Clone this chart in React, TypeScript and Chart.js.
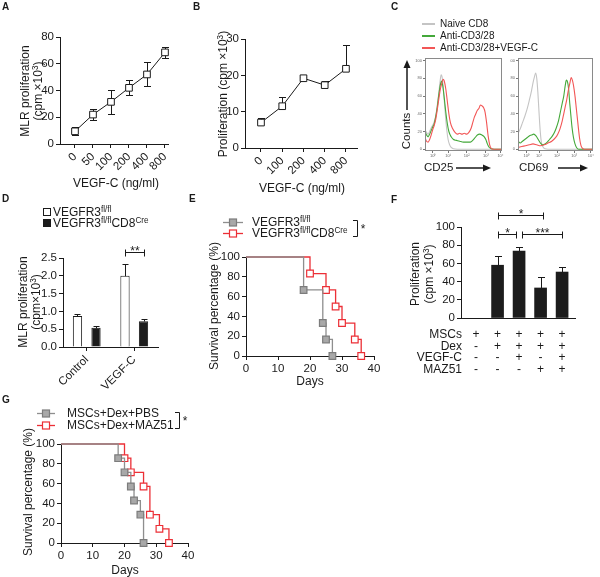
import React, { useEffect, useRef } from 'react';
import { Chart, registerables } from 'chart.js';

Chart.register(...registerables);

const FONT = "'Liberation Sans', Arial, Helvetica, sans-serif";
const INK = '#1a1a1a';
Chart.defaults.font.family = FONT;
Chart.defaults.color = INK;

// ---------- Panel A ----------
const aDoses = ['0', '50', '100', '200', '400', '800'];
const aMean = [9.5, 22, 31.5, 42, 52, 68.5];
const aErr = [3, 4, 9, 5.5, 9, 4];

// ---------- Panel B ----------
const bDoses = ['0', '100', '200', '400', '800'];
const bMean = [7, 11.5, 19.2, 17.3, 21.8];
const bErr = [1.3, 2.5, 0.4, 1.2, 6.5];

// ---------- Panel C (flow histograms, % of max) ----------
const flowYTicks = [0, 20, 40, 60, 80, 100];
const flowTickLabels = ['10⁰', '10¹', '10²', '10³', '10⁴'];
const cd25TickPos = [10, 30, 54, 79, 98];
const cd69TickPos = [11, 28, 52, 75, 97];
const cd25Naive = [[0, 22], [2, 19], [4, 17], [6, 20], [8, 24], [10, 27], [12, 31], [14, 38], [16, 50], [18, 64], [19.5, 76], [21, 84], [22.5, 80], [24, 66], [26, 44], [28, 24], [30, 11], [32, 5], [34, 2], [37, 0.5], [42, 0], [100, 0]];
const cd25Anti = [[0, 20], [2, 16], [4, 14], [6, 17], [8, 21], [10, 25], [12, 29], [14, 37], [16, 48], [18, 62], [20, 73], [21.5, 77], [23, 72], [25, 58], [27, 42], [29, 29], [31, 20], [34, 14], [37, 11], [41, 10], [45, 9], [50, 8], [55, 8], [59, 8], [62, 10], [65, 13], [68, 16], [71, 17], [74, 16], [77, 14], [79, 11], [81, 6], [83, 2.5], [86, 0.5], [90, 0], [100, 0]];
const cd25Vegf = [[0, 13], [2, 9], [4, 8], [6, 11], [8, 16], [10, 22], [12, 27], [14, 34], [16, 45], [18, 57], [20, 68], [22, 75], [23.5, 79], [25, 77], [27, 68], [29, 54], [31, 40], [33, 30], [36, 23], [39, 19], [42, 17], [45, 18], [48, 17], [51, 18], [54, 17], [57, 19], [60, 24], [62, 30], [64, 36], [66, 40], [68, 44], [70, 46], [72, 50], [74, 49], [76, 47], [78, 42], [80, 30], [82, 15], [84, 5], [86, 1], [89, 0], [100, 0]];
const cd69Naive = [[0, 18], [3, 23], [6, 30], [9, 37], [12, 45], [15, 55], [18, 66], [20, 75], [22, 82], [23.5, 86], [25, 80], [26.5, 64], [28, 42], [29.5, 22], [31, 9], [33, 3], [36, 0.5], [40, 0], [100, 0]];
const cd69Anti = [[0, 9], [3, 7], [6, 9], [9, 11], [12, 13], [15, 15], [18, 16], [21, 17], [24, 15], [27, 11], [30, 7], [33, 5], [36, 6], [39, 8], [42, 11], [45, 14], [48, 18], [51, 24], [54, 32], [57, 44], [59, 52], [61, 60], [63, 72], [64.5, 78], [66, 76], [67.5, 68], [69, 52], [70.5, 38], [72, 25], [74, 13], [76, 6], [78, 2], [81, 0], [100, 0]];
const cd69Vegf = [[0, 2], [5, 3], [10, 4], [15, 5], [20, 6], [25, 5], [30, 4], [35, 5], [40, 7], [45, 9], [50, 13], [53, 17], [56, 23], [59, 32], [61, 40], [63, 48], [65, 56], [67, 66], [69, 74], [71, 81], [72.5, 78], [74, 72], [76, 60], [78, 44], [80, 28], [82, 13], [84, 4], [86, 1], [89, 0], [100, 0]];

// ---------- Panel D ----------
const dGroups = ['Control', 'VEGF-C'];
const dFlox = [0.87, 2.0];
const dFloxErr = [0.06, 0.33];
const dCre = [0.54, 0.72];
const dCreErr = [0.06, 0.08];
const dSig = [{ x0: 0.805, x1: 1.195, y: 2.67, label: '**' }];

// ---------- Panel E ----------
const eFloxDays = [0, 18, 24, 25, 27];
const eFloxSurv = [100, 66.7, 33.3, 16.7, 0];
const eCreDays = [0, 20, 25, 28, 30, 34, 36];
const eCreSurv = [100, 83.3, 66.7, 50, 33.3, 16.7, 0];

// ---------- Panel F ----------
const fVals = [0, 58, 73.5, 33, 50.5];
const fErr = [0, 10, 4, 12, 6];
const fSig = [
  { x0: 1, x1: 1.86, y: 92, label: '*' },
  { x0: 2.14, x1: 4, y: 92, label: '***' },
  { x0: 1, x1: 3.1, y: 113, label: '*' },
];
const fRows = ['MSCs', 'Dex', 'VEGF-C', 'MAZ51'];
const fSigns = [
  ['+', '+', '+', '+', '+'],
  ['-', '+', '+', '+', '+'],
  ['-', '-', '+', '-', '+'],
  ['-', '-', '-', '+', '+'],
];

// ---------- Panel G ----------
const gPbsDays = [0, 18, 20, 22, 23, 25, 26];
const gPbsSurv = [100, 85.7, 71.4, 57.1, 42.9, 28.6, 0];
const gMazDays = [0, 20, 22, 26, 28, 31, 34];
const gMazSurv = [100, 85.7, 71.4, 57.1, 28.6, 14.3, 0];

// ---------- layout helpers ----------
type Rect = { l: number; t: number; r: number; b: number };

const zeroPad = (s: any) => {
  s.paddingLeft = 0; s.paddingRight = 0; s.paddingTop = 0; s.paddingBottom = 0;
};

function frame(cv: Rect, ar: Rect) {
  return {
    padding: { left: 0, top: ar.t - cv.t, right: cv.r - ar.r, bottom: 0 },
    yFit: (s: any) => { s.width = ar.l - cv.l; zeroPad(s); },
    xFit: (s: any) => { s.height = cv.b - ar.b; zeroPad(s); },
  };
}

function axis(fit: (s: any) => void, o: any = {}) {
  const { grid, ticks, border, ...rest } = o;
  return {
    ...rest,
    afterFit: fit,
    border: { display: true, color: INK, width: 1, ...(border || {}) },
    grid: { display: true, drawOnChartArea: false, drawTicks: true, tickLength: 4, color: INK, lineWidth: 1, ...(grid || {}) },
    ticks: { color: INK, font: { family: FONT, size: 11.5 }, padding: 2, ...(ticks || {}) },
  };
}

function baseOptions(pad: any, scales: any, plugins: any = {}) {
  return {
    responsive: false,
    maintainAspectRatio: false,
    animation: false,
    devicePixelRatio: 1,
    events: [],
    layout: { padding: pad, autoPadding: false },
    scales,
    plugins: { legend: { display: false }, tooltip: { enabled: false }, title: { display: false }, ...plugins },
  };
}

const errPlugin = {
  id: 'errbars',
  beforeDatasetsDraw(chart: any) {
    const ctx = chart.ctx;
    ctx.save();
    ctx.strokeStyle = INK;
    ctx.lineWidth = 1;
    chart.data.datasets.forEach((ds: any, di: number) => {
      if (!ds.errUp) return;
      const meta = chart.getDatasetMeta(di);
      const ys = chart.scales[meta.yAxisID];
      meta.data.forEach((el: any, i: number) => {
        const raw = ds.data[i];
        const v = typeof raw === 'number' ? raw : raw.y;
        const up = ds.errUp[i] || 0;
        const dn = ds.errDown ? ds.errDown[i] || 0 : 0;
        if (!up && !dn) return;
        const x = Math.round(el.x) + 0.5;
        const cap = ds.errCap || 3;
        const yTop = Math.round(ys.getPixelForValue(v + up)) + 0.5;
        const yBot = Math.round(ys.getPixelForValue(v - dn)) + 0.5;
        ctx.beginPath();
        ctx.moveTo(x, yBot);
        ctx.lineTo(x, yTop);
        if (up) { ctx.moveTo(x - cap, yTop); ctx.lineTo(x + cap, yTop); }
        if (dn) { ctx.moveTo(x - cap, yBot); ctx.lineTo(x + cap, yBot); }
        ctx.stroke();
      });
    });
    ctx.restore();
  },
};

const sigPlugin = {
  id: 'sig',
  afterDraw(chart: any, _a: any, opts: any) {
    const items = (opts && opts.items) || [];
    const ctx = chart.ctx;
    const xs = chart.scales.x;
    const ys = chart.scales.y;
    ctx.save();
    ctx.strokeStyle = INK;
    ctx.fillStyle = INK;
    ctx.lineWidth = 1;
    ctx.font = `12px ${FONT}`;
    ctx.textAlign = 'center';
    ctx.textBaseline = 'alphabetic';
    items.forEach((it: any) => {
      const x0 = Math.round(xs.getPixelForValue(it.x0)) + 0.5;
      const x1 = Math.round(xs.getPixelForValue(it.x1)) + 0.5;
      const y = Math.round(ys.getPixelForValue(it.y)) + 0.5;
      ctx.beginPath();
      ctx.moveTo(x0, y); ctx.lineTo(x1, y);
      ctx.moveTo(x0, y - 3); ctx.lineTo(x0, y + 4);
      ctx.moveTo(x1, y - 3); ctx.lineTo(x1, y + 4);
      ctx.stroke();
      ctx.fillText(it.label, (x0 + x1) / 2, y + 2);
    });
    ctx.restore();
  },
};

const framePlugin = {
  id: 'boxframe',
  afterDraw(chart: any) {
    const { ctx, chartArea: a } = chart;
    ctx.save();
    ctx.strokeStyle = '#8a8a8a';
    ctx.lineWidth = 1;
    ctx.strokeRect(Math.round(a.left) + 0.5, Math.round(a.top) + 0.5, Math.round(a.right - a.left) - 1, Math.round(a.bottom - a.top) - 1);
    ctx.restore();
  },
};

const markerLine = {
  borderColor: INK,
  borderWidth: 1,
  pointStyle: 'rect',
  pointRadius: 4.7,
  pointBackgroundColor: '#ffffff',
  pointBorderColor: INK,
  pointBorderWidth: 1,
  tension: 0,
  clip: false,
};

// ---------- chart rectangles (page px) ----------
const A_CV: Rect = { l: 0, t: 22, r: 190, b: 182 };
const A_AR: Rect = { l: 60, t: 37, r: 168, b: 144 };
const B_CV: Rect = { l: 190, t: 22, r: 385, b: 184 };
const B_AR: Rect = { l: 245, t: 39, r: 357, b: 148 };
const C1_CV: Rect = { l: 408, t: 50, r: 510, b: 165 };
const C1_AR: Rect = { l: 425, t: 58, r: 502, b: 151 };
const C2_CV: Rect = { l: 510, t: 50, r: 600, b: 165 };
const C2_AR: Rect = { l: 518, t: 58, r: 593, b: 151 };
const D_CV: Rect = { l: 0, t: 240, r: 185, b: 400 };
const D_AR: Rect = { l: 63, t: 258, r: 158, b: 347 };
const E_CV: Rect = { l: 185, t: 245, r: 392, b: 385 };
const E_AR: Rect = { l: 246, t: 257, r: 374, b: 356 };
const F_CV: Rect = { l: 395, t: 200, r: 600, b: 330 };
const F_AR: Rect = { l: 461, t: 227, r: 575, b: 318 };
const G_CV: Rect = { l: 0, t: 430, r: 205, b: 577 };
const G_AR: Rect = { l: 61, t: 444, r: 188, b: 543 };

function doseConfig(cv: Rect, ar: Rect, doses: string[], mean: number[], up: number[], down: number[] | null, xmin: number, xmax: number, ymax: number, step: number) {
  const f = frame(cv, ar);
  return {
    type: 'line',
    data: {
      datasets: [{ ...markerLine, data: mean.map((y, i) => ({ x: i, y })), errUp: up, errDown: down, errCap: 3.5 }],
    },
    options: baseOptions(f.padding, {
      x: axis(f.xFit, {
        type: 'linear', min: xmin, max: xmax, offset: false,
        afterBuildTicks: (s: any) => { s.ticks = doses.map((_, i) => ({ value: i })); },
        ticks: { callback: (v: any) => doses[v], minRotation: 45, maxRotation: 45, autoSkip: false },
      }),
      y: axis(f.yFit, { type: 'linear', min: 0, max: ymax, ticks: { stepSize: step } }),
    }),
    plugins: [errPlugin],
  };
}

function flowConfig(cv: Rect, ar: Rect, series: [number[][], string][], tickPos: number[]) {
  const f = frame(cv, ar);
  const tiny = { family: FONT, size: 4 };
  return {
    type: 'line',
    data: {
      datasets: series.map(([pts, color]) => ({
        data: pts.map(([x, y]) => ({ x, y })),
        borderColor: color,
        borderWidth: 1.1,
        pointRadius: 0,
        cubicInterpolationMode: 'monotone',
        tension: 0.4,
      })),
    },
    options: baseOptions(f.padding, {
      x: {
        type: 'linear', min: 0, max: 100, afterFit: f.xFit, offset: false,
        border: { display: false },
        grid: { drawOnChartArea: false, drawTicks: true, tickLength: 2, color: '#777' },
        afterBuildTicks: (s: any) => { s.ticks = tickPos.map((value) => ({ value })); },
        ticks: { font: tiny, color: '#666', padding: 0, maxRotation: 0, minRotation: 0, autoSkip: false, callback: (_v: any, i: number) => flowTickLabels[i] },
      },
      y: {
        type: 'linear', min: -2, max: 103, afterFit: f.yFit,
        border: { display: false },
        grid: { drawOnChartArea: false, drawTicks: true, tickLength: 2, color: '#777' },
        afterBuildTicks: (s: any) => { s.ticks = flowYTicks.map((value) => ({ value })); },
        ticks: { font: tiny, color: '#666', padding: 1, autoSkip: false },
      },
    }),
    plugins: [framePlugin],
  };
}

function kmConfig(cv: Rect, ar: Rect, d1: number[], s1: number[], d2: number[], s2: number[]) {
  const f = frame(cv, ar);
  const ds = (days: number[], surv: number[], line: string, fill: string, edge: string) => ({
    data: days.map((x, i) => ({ x, y: surv[i] })),
    stepped: true,
    borderColor: line,
    borderWidth: 1.3,
    pointStyle: 'rect',
    pointRadius: days.map((_, i) => (i === 0 ? 0 : 4.7)),
    pointBackgroundColor: fill,
    pointBorderColor: edge,
    pointBorderWidth: 1.2,
    clip: false,
  });
  return {
    type: 'line',
    data: {
      datasets: [
        ds(d1, s1, '#8e8e8e', '#a8a8a8', '#7c7c7c'),
        ds(d2, s2, '#ec2f36', '#ffffff', '#ec2f36'),
      ],
    },
    options: baseOptions(f.padding, {
      x: axis(f.xFit, { type: 'linear', min: 0, max: 40, offset: false, ticks: { stepSize: 10, maxRotation: 0 } }),
      y: axis(f.yFit, { type: 'linear', min: 0, max: 100, ticks: { stepSize: 20 } }),
    }),
    plugins: [],
  };
}

function dConfig() {
  const f = frame(D_CV, D_AR);
  return {
    type: 'bar',
    data: {
      labels: dGroups,
      datasets: [
        { data: dFlox, errUp: dFloxErr, errCap: 3, backgroundColor: '#ffffff', borderColor: INK, borderWidth: 1, categoryPercentage: 0.78, barPercentage: 0.5 },
        { data: dCre, errUp: dCreErr, errCap: 3, backgroundColor: '#1c1c1c', borderColor: INK, borderWidth: 1, categoryPercentage: 0.78, barPercentage: 0.5 },
      ],
    },
    options: baseOptions(
      f.padding,
      {
        x: axis(f.xFit, { type: 'category', offset: true, grid: { offset: false }, ticks: { minRotation: 45, maxRotation: 45, autoSkip: false } }),
        y: axis(f.yFit, { type: 'linear', min: 0, max: 2.5, ticks: { stepSize: 0.5, callback: (v: any) => Number(v).toFixed(1) } }),
      },
      { sig: { items: dSig } }
    ),
    plugins: [errPlugin, sigPlugin],
  };
}

function fConfig() {
  const f = frame(F_CV, F_AR);
  return {
    type: 'bar',
    data: {
      datasets: [
        {
          data: fVals.map((y, i) => ({ x: i, y })),
          errUp: fErr,
          errCap: 3.5,
          backgroundColor: (c: any) => (c.raw && c.raw.y === 0 ? 'rgba(0,0,0,0)' : '#1c1c1c'),
          borderWidth: 0,
          barThickness: 12,
        },
      ],
    },
    options: baseOptions(
      f.padding,
      {
        x: axis(f.xFit, { type: 'linear', min: -0.7, max: 4.6, offset: false, grid: { display: false, offset: false }, ticks: { display: false } }),
        y: axis(f.yFit, { type: 'linear', min: 0, max: 100, ticks: { stepSize: 20 } }),
      },
      { sig: { items: fSig } }
    ),
    plugins: [errPlugin, sigPlugin],
  };
}

// ---------- React pieces ----------
function ChartBox({ cv, make }: { cv: Rect; make: () => any }) {
  const ref = useRef<HTMLCanvasElement | null>(null);
  useEffect(() => {
    if (!ref.current) return;
    const chart = new Chart(ref.current, make());
    return () => chart.destroy();
  }, []);
  const w = cv.r - cv.l;
  const h = cv.b - cv.t;
  return (
    <div style={{ position: 'absolute', left: cv.l, top: cv.t, width: w, height: h }}>
      <canvas ref={ref} width={w} height={h} style={{ display: 'block', width: w, height: h }} />
    </div>
  );
}

function T({ x, y, children, size = 12, rot = false, anchor = 'c', bold = false }: any) {
  const tx = anchor === 'c' ? '-50%' : anchor === 'l' ? '0%' : '-100%';
  return (
    <div
      style={{
        position: 'absolute', left: x, top: y,
        transform: `translate(${tx}, -50%)${rot ? ' rotate(-90deg)' : ''}`,
        whiteSpace: 'nowrap', fontFamily: FONT, fontSize: size, lineHeight: 1,
        fontWeight: bold ? 700 : 400, color: INK,
      }}
    >
      {children}
    </div>
  );
}

const supStyle: any = { fontSize: '0.68em', position: 'relative', top: '-0.5em', verticalAlign: 'baseline' };

export default function App() {
  const colX = (i: number) => 476 + i * 21.5;
  const rowY = [334, 345.7, 357.4, 369];
  return (
    <div style={{ position: 'absolute', left: 0, top: 0, width: 600, height: 577, background: '#fff', overflow: 'hidden' }}>
      <ChartBox cv={A_CV} make={() => doseConfig(A_CV, A_AR, aDoses, aMean, aErr, aErr, -0.833, 5.167, 80, 20)} />
      <ChartBox cv={B_CV} make={() => doseConfig(B_CV, B_AR, bDoses, bMean, bErr, null, -0.753, 4.52, 30, 10)} />
      <ChartBox cv={C1_CV} make={() => flowConfig(C1_CV, C1_AR, [[cd25Vegf, '#f25656'], [cd25Anti, '#44a83a'], [cd25Naive, '#c4c4c4']], cd25TickPos)} />
      <ChartBox cv={C2_CV} make={() => flowConfig(C2_CV, C2_AR, [[cd69Vegf, '#f25656'], [cd69Anti, '#44a83a'], [cd69Naive, '#c4c4c4']], cd69TickPos)} />
      <ChartBox cv={D_CV} make={dConfig} />
      <ChartBox cv={E_CV} make={() => kmConfig(E_CV, E_AR, eFloxDays, eFloxSurv, eCreDays, eCreSurv)} />
      <ChartBox cv={F_CV} make={fConfig} />
      <ChartBox cv={G_CV} make={() => kmConfig(G_CV, G_AR, gPbsDays, gPbsSurv, gMazDays, gMazSurv)} />

      <svg width={600} height={577} style={{ position: 'absolute', left: 0, top: 0, pointerEvents: 'none' }}>
        {/* C legend */}
        <line x1={422} y1={24} x2={435} y2={24} stroke="#c4c4c4" strokeWidth={2} />
        <line x1={422} y1={36} x2={435} y2={36} stroke="#44a83a" strokeWidth={2} />
        <line x1={422} y1={48} x2={435} y2={48} stroke="#f25656" strokeWidth={2} />
        {/* C arrows */}
        <line x1={407} y1={110} x2={407} y2={66} stroke={INK} strokeWidth={1.5} />
        <polygon points="407,60 403.5,68 410.5,68" fill={INK} />
        <line x1={456} y1={168} x2={485} y2={168} stroke={INK} strokeWidth={1.5} />
        <polygon points="491,168 483,164.5 483,171.5" fill={INK} />
        <line x1={558} y1={168} x2={582} y2={168} stroke={INK} strokeWidth={1.5} />
        <polygon points="588,168 580,164.5 580,171.5" fill={INK} />
        {/* D legend boxes */}
        <rect x={43.5} y={208.5} width={7} height={7} fill="#fff" stroke={INK} strokeWidth={1} />
        <rect x={43.5} y={219.5} width={7} height={7} fill="#1c1c1c" stroke={INK} strokeWidth={1} />
        {/* E legend */}
        <line x1={223} y1={222.5} x2={243} y2={222.5} stroke="#8e8e8e" strokeWidth={1.3} />
        <rect x={229.5} y={219} width={7} height={7} fill="#a8a8a8" stroke="#7c7c7c" strokeWidth={1.2} />
        <line x1={223} y1={233.5} x2={243} y2={233.5} stroke="#ec2f36" strokeWidth={1.3} />
        <rect x={229.5} y={230} width={7} height={7} fill="#fff" stroke="#ec2f36" strokeWidth={1.2} />
        <path d="M353 220.5 H357.5 V236.5 H353" fill="none" stroke={INK} strokeWidth={1} />
        {/* G legend */}
        <line x1={37} y1={413.5} x2={55} y2={413.5} stroke="#8e8e8e" strokeWidth={1.3} />
        <rect x={42.5} y={410} width={7} height={7} fill="#a8a8a8" stroke="#7c7c7c" strokeWidth={1.2} />
        <line x1={37} y1={425.5} x2={55} y2={425.5} stroke="#ec2f36" strokeWidth={1.3} />
        <rect x={42.5} y={422} width={7} height={7} fill="#fff" stroke="#ec2f36" strokeWidth={1.2} />
        <path d="M175 412.5 H179.5 V428.5 H175" fill="none" stroke={INK} strokeWidth={1} />
      </svg>

      {/* panel letters */}
      <T x={2} y={7} anchor="l" bold size={10}>A</T>
      <T x={193} y={7} anchor="l" bold size={10}>B</T>
      <T x={391} y={7} anchor="l" bold size={10}>C</T>
      <T x={2} y={199} anchor="l" bold size={10}>D</T>
      <T x={189} y={199} anchor="l" bold size={10}>E</T>
      <T x={391} y={200} anchor="l" bold size={10}>F</T>
      <T x={2} y={400} anchor="l" bold size={10}>G</T>

      {/* A */}
      <T x={25} y={91} rot>MLR proliferation</T>
      <T x={38} y={91} rot>(cpm ×10<sup style={supStyle}>3</sup>)</T>
      <T x={116} y={183}>VEGF-C (ng/ml)</T>

      {/* B */}
      <T x={223} y={94} rot>Proliferation (cpm ×10<sup style={supStyle}>3</sup>)</T>
      <T x={302} y={188}>VEGF-C (ng/ml)</T>

      {/* C */}
      <T x={440} y={24} anchor="l" size={10}>Naive CD8</T>
      <T x={440} y={36} anchor="l" size={10}>Anti-CD3/28</T>
      <T x={440} y={48} anchor="l" size={10}>Anti-CD3/28+VEGF-C</T>
      <T x={407} y={131} rot size={11.5}>Counts</T>
      <T x={424} y={168} anchor="l" size={11.5}>CD25</T>
      <T x={519} y={168} anchor="l" size={11.5}>CD69</T>

      {/* D */}
      <T x={53} y={212} anchor="l">VEGFR3<sup style={supStyle}>fl/fl</sup></T>
      <T x={53} y={223} anchor="l">VEGFR3<sup style={supStyle}>fl/fl</sup>CD8<sup style={supStyle}>Cre</sup></T>
      <T x={23} y={302} rot>MLR proliferation</T>
      <T x={36} y={302} rot>(cpm×10<sup style={supStyle}>3</sup>)</T>

      {/* E */}
      <T x={252} y={222} anchor="l">VEGFR3<sup style={supStyle}>fl/fl</sup></T>
      <T x={252} y={233} anchor="l">VEGFR3<sup style={supStyle}>fl/fl</sup>CD8<sup style={supStyle}>Cre</sup></T>
      <T x={363} y={229}>*</T>
      <T x={214} y={306} rot>Survival percentage (%)</T>
      <T x={310} y={381}>Days</T>

      {/* F */}
      <T x={415} y={274} rot>Proliferation</T>
      <T x={429} y={274} rot>(cpm ×10<sup style={supStyle}>3</sup>)</T>
      {fRows.map((name, r) => (
        <T key={name} x={462} y={rowY[r]} anchor="r">{name}</T>
      ))}
      {fSigns.map((row, r) =>
        row.map((s, c) => (
          <T key={`${r}-${c}`} x={colX(c)} y={rowY[r]}>{s}</T>
        ))
      )}

      {/* G */}
      <T x={67} y={413} anchor="l">MSCs+Dex+PBS</T>
      <T x={67} y={425} anchor="l">MSCs+Dex+MAZ51</T>
      <T x={185} y={421}>*</T>
      <T x={28} y={492} rot>Survival percentage (%)</T>
      <T x={125} y={570}>Days</T>
    </div>
  );
}
